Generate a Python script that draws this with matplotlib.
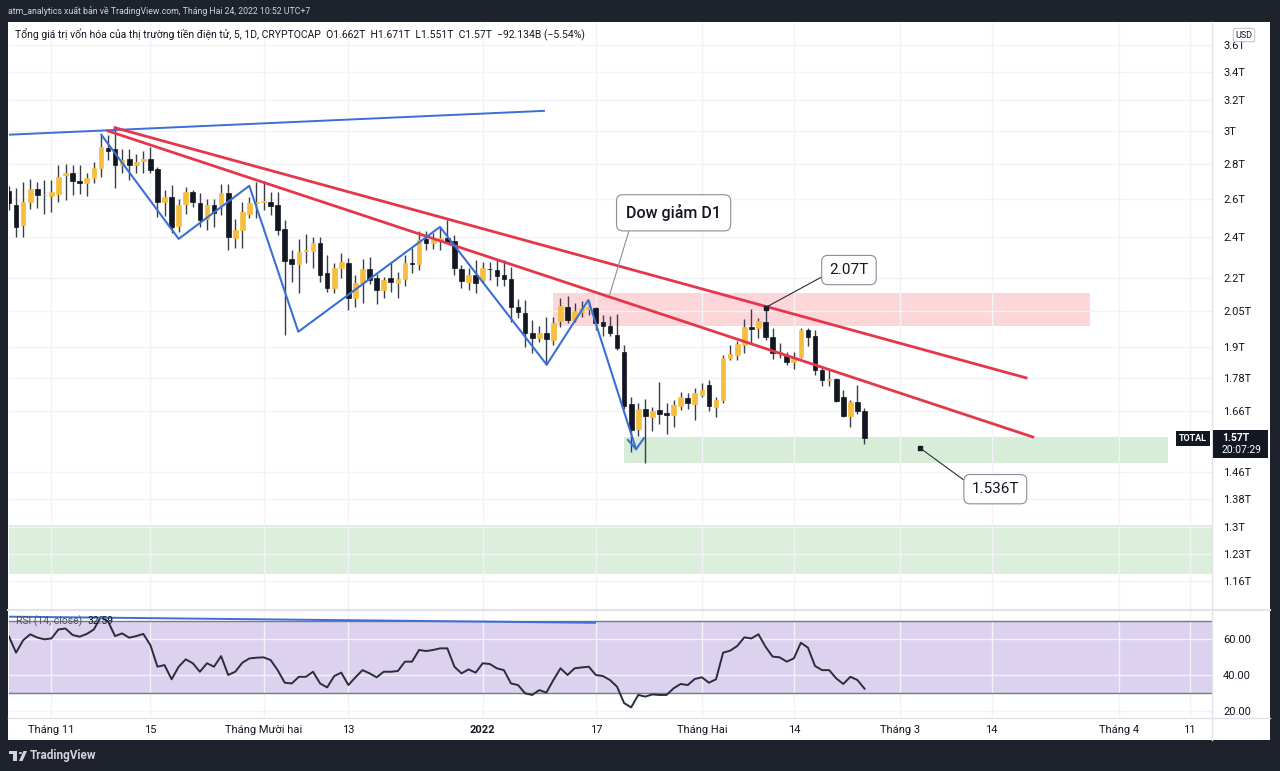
import numpy as np
import matplotlib
matplotlib.use('Agg')
import matplotlib.pyplot as plt
from matplotlib.patches import Rectangle, Circle, Polygon
from matplotlib.lines import Line2D
from matplotlib.ticker import NullLocator
from datetime import date

plt.rcParams['font.family'] = ['Roboto', 'DejaVu Sans']

# ---------------- data (TOTAL crypto market cap, daily, trillions USD) ----------------
start_date = date(2021, 10, 26)
opens = [2.645, 2.566, 2.460, 2.584, 2.652, 2.620, 2.617, 2.628, 2.735, 2.745,
         2.700, 2.688, 2.715, 2.774, 2.896, 2.886, 2.792, 2.826, 2.792, 2.814,
         2.830, 2.767, 2.584, 2.612, 2.455, 2.570, 2.635, 2.575, 2.490, 2.566,
         2.566, 2.630, 2.392, 2.434, 2.520, 2.575, 2.580, 2.584, 2.566, 2.437,
         2.289, 2.266, 2.330, 2.330, 2.370, 2.225, 2.155, 2.245, 2.272, 2.108,
         2.178, 2.240, 2.198, 2.145, 2.198, 2.178, 2.194, 2.270, 2.266, 2.387,
         2.367, 2.380, 2.395, 2.378, 2.240, 2.183, 2.214, 2.190, 2.242, 2.237,
         2.214, 2.194, 2.070, 2.042, 1.960, 1.940, 1.960, 1.930, 2.007, 2.070,
         2.013, 2.049, 2.060, 2.063, 2.006, 1.990, 1.950, 1.882, 1.685, 1.600,
         1.668, 1.640, 1.665, 1.655, 1.648, 1.680, 1.707, 1.688, 1.720, 1.755,
         1.677, 1.700, 1.858, 1.870, 1.910, 1.983, 1.978, 2.004, 1.944, 1.877,
         1.865, 1.843, 1.862, 1.971, 1.946, 1.812, 1.774, 1.777, 1.710, 1.644,
         1.694, 1.662]
highs = [2.670, 2.658, 2.695, 2.709, 2.695, 2.705, 2.705, 2.792, 2.800, 2.790,
         2.790, 2.745, 2.810, 2.975, 2.975, 3.030, 2.890, 2.886, 2.860, 2.878,
         2.898, 2.780, 2.649, 2.675, 2.600, 2.667, 2.649, 2.630, 2.600, 2.600,
         2.680, 2.680, 2.490, 2.580, 2.610, 2.695, 2.700, 2.640, 2.640, 2.486,
         2.334, 2.390, 2.414, 2.400, 2.400, 2.310, 2.270, 2.320, 2.293, 2.214,
         2.289, 2.300, 2.220, 2.205, 2.270, 2.230, 2.310, 2.343, 2.427, 2.427,
         2.420, 2.450, 2.486, 2.410, 2.260, 2.245, 2.285, 2.275, 2.275, 2.285,
         2.285, 2.253, 2.104, 2.100, 2.013, 1.990, 2.027, 2.027, 2.107, 2.120,
         2.087, 2.097, 2.097, 2.070, 2.035, 2.030, 2.040, 1.910, 1.710, 1.690,
         1.703, 1.677, 1.768, 1.690, 1.700, 1.730, 1.725, 1.745, 1.762, 1.774,
         1.712, 1.871, 1.910, 1.925, 2.016, 2.060, 2.020, 2.067, 1.980, 1.916,
         1.883, 1.883, 1.980, 1.980, 1.971, 1.826, 1.812, 1.780, 1.737, 1.700,
         1.755, 1.671]
lows = [2.540, 2.397, 2.400, 2.543, 2.548, 2.520, 2.530, 2.584, 2.593, 2.620,
        2.628, 2.615, 2.688, 2.720, 2.822, 2.658, 2.745, 2.705, 2.745, 2.748,
        2.745, 2.500, 2.505, 2.420, 2.425, 2.520, 2.553, 2.450, 2.434, 2.450,
        2.510, 2.334, 2.343, 2.343, 2.495, 2.495, 2.539, 2.510, 2.410, 1.951,
        2.180, 2.130, 2.270, 2.245, 2.180, 2.136, 2.130, 2.199, 2.056, 2.070,
        2.085, 2.170, 2.083, 2.108, 2.136, 2.108, 2.165, 2.225, 2.237, 2.334,
        2.337, 2.334, 2.367, 2.214, 2.152, 2.145, 2.133, 2.175, 2.190, 2.165,
        2.165, 2.006, 2.020, 1.902, 1.876, 1.920, 1.830, 1.910, 1.985, 2.000,
        2.006, 2.027, 2.033, 1.970, 1.945, 1.945, 1.890, 1.670, 1.525, 1.575,
        1.488, 1.594, 1.618, 1.584, 1.607, 1.665, 1.668, 1.630, 1.710, 1.663,
        1.640, 1.689, 1.852, 1.850, 1.877, 1.915, 1.937, 1.930, 1.853, 1.857,
        1.830, 1.815, 1.858, 1.906, 1.794, 1.753, 1.750, 1.695, 1.642, 1.607,
        1.650, 1.551]
closes = [2.575, 2.448, 2.584, 2.654, 2.620, 2.622, 2.635, 2.725, 2.745, 2.697,
          2.688, 2.715, 2.772, 2.898, 2.876, 2.790, 2.822, 2.792, 2.810, 2.830,
          2.763, 2.584, 2.612, 2.450, 2.566, 2.635, 2.584, 2.486, 2.566, 2.525,
          2.630, 2.400, 2.434, 2.530, 2.575, 2.584, 2.590, 2.561, 2.434, 2.282,
          2.265, 2.326, 2.332, 2.370, 2.214, 2.153, 2.245, 2.277, 2.108, 2.178,
          2.240, 2.190, 2.145, 2.190, 2.183, 2.194, 2.272, 2.268, 2.384, 2.367,
          2.384, 2.395, 2.375, 2.245, 2.188, 2.216, 2.178, 2.245, 2.240, 2.210,
          2.194, 2.070, 2.049, 1.960, 1.938, 1.960, 1.933, 2.000, 2.073, 2.013,
          2.053, 2.063, 2.070, 2.000, 1.988, 1.960, 1.897, 1.680, 1.596, 1.670,
          1.644, 1.663, 1.650, 1.648, 1.683, 1.710, 1.690, 1.725, 1.737, 1.678,
          1.700, 1.860, 1.875, 1.915, 1.985, 1.975, 2.009, 1.941, 1.877, 1.883,
          1.843, 1.864, 1.971, 1.944, 1.812, 1.774, 1.779, 1.698, 1.644, 1.694,
          1.660, 1.570]
rsi = [61.5, 52.6, 59.5, 62.8, 61.0, 60.0, 60.5, 65.5, 66.0, 62.4,
       61.5, 63.0, 65.5, 72.5, 70.0, 61.8, 63.3, 60.9, 61.8, 63.0,
       56.8, 44.8, 45.7, 37.8, 44.8, 48.9, 46.7, 42.0, 46.7, 44.8,
       50.7, 40.2, 42.0, 47.0, 49.4, 49.8, 50.0, 48.5, 42.9, 35.9,
       35.5, 39.2, 39.2, 42.0, 35.5, 33.3, 39.6, 41.5, 34.6, 38.9,
       42.9, 41.1, 38.9, 42.0, 42.0, 42.4, 47.6, 47.6, 54.1, 53.5,
       54.1, 55.0, 55.0, 44.8, 41.1, 43.3, 41.5, 46.7, 46.3, 43.9,
       42.9, 35.5, 34.6, 30.0, 29.1, 31.8, 30.4, 37.4, 43.9, 40.2,
       43.9, 44.4, 44.8, 40.2, 39.6, 37.4, 33.7, 24.6, 22.2, 29.1,
       28.2, 29.4, 29.1, 29.1, 32.8, 35.2, 34.6, 38.0, 38.9, 35.9,
       37.8, 52.6, 53.7, 56.3, 61.1, 60.5, 62.8, 55.9, 50.4, 50.0,
       47.6, 49.4, 58.1, 55.4, 45.2, 42.9, 42.9, 38.3, 35.2, 39.2,
       37.4, 32.59]

price_ticks = [3.6, 3.4, 3.2, 3.0, 2.8, 2.6, 2.4, 2.2, 2.05, 1.9, 1.78, 1.66,
               1.46, 1.38, 1.3, 1.23, 1.16]
price_tick_labels = ['3.6T', '3.4T', '3.2T', '3T', '2.8T', '2.6T', '2.4T', '2.2T',
                     '2.05T', '1.9T', '1.78T', '1.66T', '1.46T', '1.38T', '1.3T',
                     '1.23T', '1.16T']
rsi_ticks = [60, 40, 20]
rsi_tick_labels = ['60.00', '40.00', '20.00']
time_tick_dates = [date(2021, 11, 1), date(2021, 11, 15), date(2021, 12, 1),
                   date(2021, 12, 13), date(2022, 1, 1), date(2022, 1, 17),
                   date(2022, 2, 1), date(2022, 2, 14), date(2022, 3, 1),
                   date(2022, 3, 14), date(2022, 4, 1), date(2022, 4, 11)]
time_tick_labels = ['Tháng 11', '15', 'Tháng Mười hai', '13', '2022', '17',
                    'Tháng Hai', '14', 'Tháng 3', '14', 'Tháng 4', '11']

# drawings (x in bar index, y in T)
blue_top = ([-0.14, 75.8], [2.976, 3.13])
red_upper = ([15.0, 143.85], [3.02, 1.782])
red_lower = ([14.0, 144.8], [3.00, 1.573])
zig_x = [13.06, 24.0, 33.99, 40.92, 60.96, 76.05, 81.94, 88.69]
zig_y = [2.976, 2.389, 2.672, 1.964, 2.45, 1.832, 2.100, 1.533]
arrow_x = [87.55, 88.69, 89.8]
arrow_y = [1.563, 1.533, 1.569]
pink_zone = ([76.9, 152.9], 1.987, 2.132)
green_zone = ([87.0, 163.9], 1.489, 1.573)
green_big = (1.178, 1.306)
rsi_blue = ([-0.14, 82.9], [72.6, 69.2])

# ---------------- figure ----------------
W, H = 1280, 771
BG = '#1E222D'
fig = plt.figure(figsize=(W / 100, H / 100), dpi=100, facecolor=BG)

def fx(x):
    return x / W

def fy(y):
    return 1 - y / H

fig.patches.append(Rectangle((fx(8), fy(740)), fx(1270) - fx(8), fy(22) - fy(740),
                             transform=fig.transFigure, facecolor='white',
                             edgecolor='none', zorder=-5))

L, R = 8.5, 1212
ax = fig.add_axes([fx(L), fy(609), fx(R) - fx(L), fy(22) - fy(609)])
axr = fig.add_axes([fx(L), fy(718), fx(R) - fx(L), fy(610) - fy(718)], sharex=ax)
for a in (ax, axr):
    a.set_facecolor('white')
    for s in a.spines.values():
        s.set_visible(False)

n = len(closes)
x = np.arange(n)
o = np.array(opens); h = np.array(highs); l = np.array(lows); c = np.array(closes)
up = c >= o
GOLD = '#F5BE3E'
DARK = '#131722'
cols = np.where(up, GOLD, DARK)

ax.set_yscale('log')
ax.set_ylim(1.0943, 3.775)
ax.set_xlim(-0.07, 170.15)
ax.yaxis.set_minor_locator(NullLocator())

tick_idx = [(d - start_date).days for d in time_tick_dates]

GRID = '#F2F3F7'
ax.set_yticks(price_ticks)
ax.set_yticklabels(price_tick_labels)
ax.set_xticks(tick_idx)
ax.grid(True, color=GRID, lw=1, zorder=0)
ax.yaxis.tick_right()
ax.tick_params(axis='y', length=0, pad=8, labelsize=8, labelcolor='#131722')
ax.tick_params(axis='x', length=0, labelbottom=False)

# zones
ax.fill_between(pink_zone[0], pink_zone[1], pink_zone[2], color='#F23645', alpha=0.2, lw=0, zorder=1)
ax.fill_between(green_zone[0], green_zone[1], green_zone[2], color='#4CAF50', alpha=0.22, lw=0, zorder=1)
ax.axhspan(green_big[0], green_big[1], color='#4CAF50', alpha=0.2, lw=0, zorder=1)

# candles
ax.vlines(x, l, h, color='#3A3E4A', lw=1, zorder=3)
ax.bar(x, np.abs(c - o), bottom=np.minimum(o, c), width=0.66, color=cols,
       edgecolor=cols, lw=0.5, zorder=4)

# drawings
BLUE = '#3B6FD6'
RED = '#E5364B'
ax.plot(*blue_top, color=BLUE, lw=1.4, zorder=5, solid_capstyle='butt')
ax.plot(*red_upper, color=RED, lw=2.0, zorder=5)
ax.plot(*red_lower, color=RED, lw=2.0, zorder=5)
ax.plot(zig_x, zig_y, color=BLUE, lw=1.5, zorder=5)
ax.plot(arrow_x, arrow_y, color=BLUE, lw=1.5, zorder=5)

# callouts
box = dict(boxstyle='round,pad=0.5,rounding_size=0.4', fc='white', ec='#8A8E99', lw=0.8)
box_big = dict(boxstyle='round,pad=0.6,rounding_size=0.4', fc='white', ec='#8A8E99', lw=0.8)
ax.annotate('Dow giảm D1', xy=(84.95, 2.123), xytext=(94.0, 2.524),
            textcoords='data', ha='center', va='center', fontsize=11.5,
            fontweight='medium', color=DARK, bbox=box_big, zorder=7,
            arrowprops=dict(arrowstyle='-', color='#8A8E99', lw=0.8,
                            relpos=(0.06, 0.0), shrinkA=0, shrinkB=0))
ax.plot([107], [2.067], 's', ms=2.5, color=DARK, zorder=7)
ax.annotate('2.07T', xy=(107, 2.067), xytext=(118.8, 2.237),
            textcoords='data', ha='center', va='center', fontsize=11,
            color=DARK, bbox=box, zorder=7,
            arrowprops=dict(arrowstyle='-', color='#2A2E39', lw=0.8,
                            relpos=(0.0, 0.3), shrinkA=0, shrinkB=0))
ax.plot([128.9], [1.536], 's', ms=2.5, color=DARK, zorder=7)
ax.annotate('1.536T', xy=(128.9, 1.536), xytext=(139.5, 1.409),
            textcoords='data', ha='center', va='center', fontsize=11,
            color=DARK, bbox=box, zorder=7,
            arrowprops=dict(arrowstyle='-', color='#2A2E39', lw=0.8,
                            relpos=(0.0, 0.75), shrinkA=0, shrinkB=0))

# ---------------- RSI pane ----------------
axr.set_ylim(16.3, 76.3)
axr.axhspan(30, 70, color='#DCD1EF', lw=0, zorder=1)
axr.axhline(70, color='#787B86', lw=1, zorder=2)
axr.axhline(30, color='#787B86', lw=1, zorder=2)
axr.plot(x, rsi, color='#2A2E39', lw=1.4, zorder=4)
axr.plot(*rsi_blue, color=BLUE, lw=1.4, zorder=4)
axr.set_yticks(rsi_ticks)
axr.set_yticklabels(rsi_tick_labels)
axr.yaxis.tick_right()
axr.yaxis.set_minor_locator(NullLocator())
axr.grid(True, color=GRID, lw=1, zorder=0)
axr.tick_params(axis='y', length=0, pad=8, labelsize=8, labelcolor='#131722')
axr.set_xticks(tick_idx)
axr.set_xticklabels(time_tick_labels)
axr.tick_params(axis='x', length=0, pad=5, labelsize=8, labelcolor='#131722')
for t in axr.get_xticklabels():
    if t.get_text() == '2022':
        t.set_fontweight('bold')
axr.text(0.006, 0.9, 'RSI (14, close)', transform=axr.transAxes, fontsize=7.5,
         color='#50535E', va='center', zorder=6)
axr.text(0.066, 0.9, '32.59', transform=axr.transAxes, fontsize=7.5,
         color='#131722', va='center', zorder=6)

# separators
sep = '#E0E3EB'
fig.add_artist(Line2D([fx(R), fx(R)], [fy(740), fy(22)], transform=fig.transFigure, color=sep, lw=1))
fig.add_artist(Line2D([fx(8), fx(1270)], [fy(609.5), fy(609.5)], transform=fig.transFigure, color=sep, lw=1.5))
fig.add_artist(Line2D([fx(8), fx(1270)], [fy(718), fy(718)], transform=fig.transFigure, color=sep, lw=1))

# header texts
fig.text(fx(8), fy(11), 'atm_analytics xuất bản về TradingView.com, Tháng Hai 24, 2022 10:52 UTC+7',
         color='#D1D4DC', fontsize=6.3, va='center', ha='left')
fig.text(fx(15), fy(35), 'Tổng giá trị vốn hóa của thị trường tiền điện tử, 5, 1D, CRYPTOCAP  '
         'O1.662T  H1.671T  L1.551T  C1.57T  −92.134B (−5.54%)',
         color='#131722', fontsize=7.5, va='center', ha='left')

# USD badge
fig.text(fx(1244), fy(35), 'USD', fontsize=6.5, color='#131722', ha='center', va='center',
         bbox=dict(boxstyle='round,pad=0.25', fc='white', ec='#B2B5BE', lw=0.6))

# TOTAL / last price labels
fig.text(fx(1193), fy(438.5), 'TOTAL', color='white', fontsize=6.5, fontweight='bold',
         ha='center', va='center',
         bbox=dict(boxstyle='square,pad=0.3', fc=DARK, ec='none'))
fig.patches.append(Rectangle((fx(1213), fy(458)), fx(1268) - fx(1213), fy(430) - fy(458),
                             transform=fig.transFigure, facecolor=DARK, edgecolor='none', zorder=5))
fig.text(fx(1222), fy(438), '1.57T', color='white', fontsize=7.5, fontweight='bold',
         ha='left', va='center', zorder=6)
fig.text(fx(1222), fy(450), '20:07:29', color='white', fontsize=7.5,
         ha='left', va='center', zorder=6)

# footer logo
LOGO = '#D1D4DC'
fig.patches.append(Rectangle((fx(9), fy(754)), fx(17) - fx(9), fy(751) - fy(754),
                             transform=fig.transFigure, fc=LOGO, ec='none'))
fig.patches.append(Rectangle((fx(13), fy(761)), fx(17) - fx(13), fy(754) - fy(761),
                             transform=fig.transFigure, fc=LOGO, ec='none'))
fig.patches.append(Circle((fx(20.5), fy(753)), 1.6 / W, transform=fig.transFigure, fc=LOGO, ec='none'))
fig.patches.append(Polygon([(fx(19), fy(761)), (fx(23.5), fy(751)), (fx(27), fy(751)), (fx(22.5), fy(761))],
                           closed=True, transform=fig.transFigure, fc=LOGO, ec='none'))
fig.text(fx(30), fy(756), 'TradingView', color=LOGO, fontsize=8.5, fontweight='bold',
         ha='left', va='center')

fig.savefig('out.png', dpi=100, facecolor=BG)
